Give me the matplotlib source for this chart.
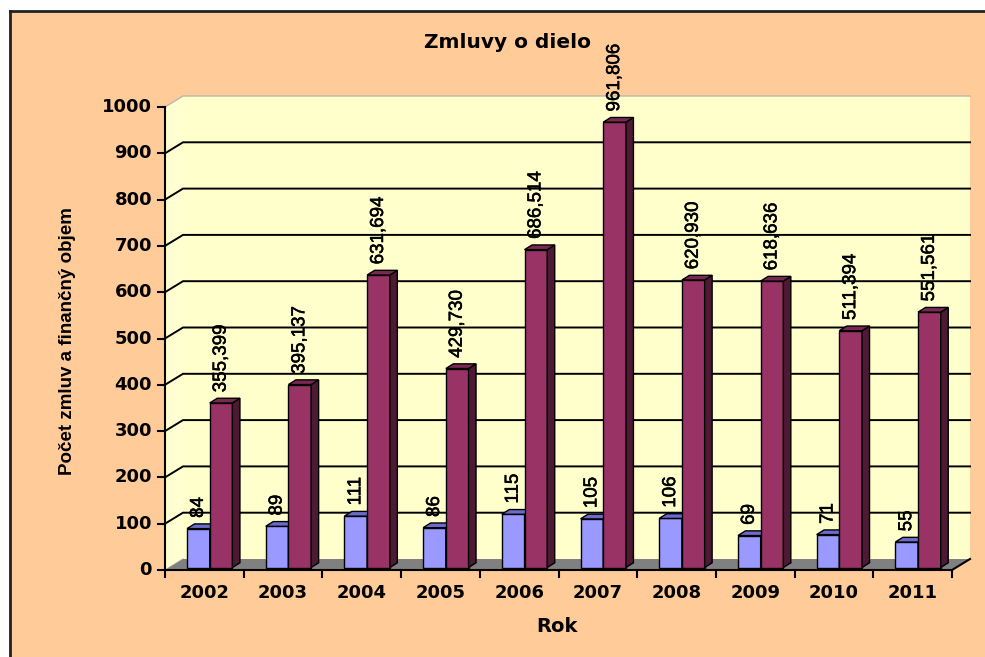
import matplotlib
matplotlib.use("Agg")
import matplotlib.pyplot as plt
import matplotlib.patheffects as pe
from matplotlib.patches import Polygon, Rectangle
from matplotlib.lines import Line2D
from matplotlib import font_manager as fm

# ---- data ----
years = ["2002", "2003", "2004", "2005", "2006", "2007", "2008", "2009", "2010", "2011"]
pocet = [84, 89, 111, 86, 115, 105, 106, 69, 71, 55]
objem = [355.399, 395.137, 631.694, 429.730, 686.514, 961.806, 620.930, 618.636, 511.394, 551.561]
yticks = [0, 100, 200, 300, 400, 500, 600, 700, 800, 900, 1000]
title = "Zmluvy o dielo"
xlabel = "Rok"
ylabel = "Počet zmluv a finančný objem"

# ---- style ----
BG = "#FFCC99"
WALL = "#FFFFCC"
FLOOR = "#808080"
BLUE = ("#9999FF", "#6B6BCC", "#4D4D99")      # front, top, side
MAROON = ("#993366", "#7A2952", "#4D1A33")

names = {f.name for f in fm.fontManager.ttflist}
LABEL_FONT = "Liberation Sans Narrow" if "Liberation Sans Narrow" in names else "Liberation Sans"
LABEL_SIZE = 15 if LABEL_FONT == "Liberation Sans Narrow" else 13.5

W, H = 985, 657
fig = plt.figure(figsize=(W / 100, H / 100), dpi=100)
fig.patch.set_facecolor("white")

# peach chart area with black border on top/left
fig.add_artist(Rectangle((9 / W, 0), 1, 1 - 11 / H, transform=fig.transFigure,
                         facecolor=BG, edgecolor="none", zorder=-10))
fig.add_artist(Line2D([9.5 / W, 9.5 / W], [0, 1 - 10.5 / H], transform=fig.transFigure,
                      color="#222222", lw=2))
fig.add_artist(Line2D([9.5 / W, 1], [1 - 10.5 / H, 1 - 10.5 / H], transform=fig.transFigure,
                      color="#222222", lw=2))

L, R, B, T = 165, 952, 570, 107
ax = fig.add_axes([L / W, (H - B) / H, (R - L) / W, (B - T) / H])
ax.set_xlim(0, len(years))
ax.set_ylim(0, 1000)
ax.axis("off")

pxx = (R - L) / len(years)   # pixels per category
pxy = (B - T) / 1000.0       # pixels per value unit
DX, DY = 18 / pxx, 11 / pxy  # wall depth
n = len(years)
ymax = 1000

def poly(pts, fc, ec="none", lw=0, z=1):
    ax.add_patch(Polygon(pts, closed=True, facecolor=fc, edgecolor=ec, lw=lw,
                         zorder=z, clip_on=False, joinstyle="miter"))

# back wall
poly([(DX, DY), (n + DX, DY), (n + DX, ymax + DY), (DX, ymax + DY)], WALL, z=0)
# left side wall
poly([(0, 0), (DX, DY), (DX, ymax + DY), (0, ymax)], "#FFFFD2", z=0)
# top edges of walls
ax.plot([0, DX, n + DX], [ymax, ymax + DY, ymax + DY], color="#B8B8A8", lw=1, clip_on=False, zorder=0.5)
ax.plot([0, DX], [0, DY], color="#C8C8B0", lw=1, clip_on=False, zorder=0.5)
# gridlines
for v in yticks[1:-1]:
    ax.plot([0, DX, n + DX], [v, v + DY, v + DY], color="black", lw=1.4,
            clip_on=False, zorder=0.6, solid_joinstyle="miter")
# floor
poly([(0, 0), (n, 0), (n + DX, DY), (DX, DY)], FLOOR, z=0.7)

# axes lines
ax.plot([0, 0], [0, ymax], color="black", lw=1.5, clip_on=False, zorder=5)
ax.plot([0, n, n + DX], [0, 0, DY], color="black", lw=1.5, clip_on=False, zorder=5)
for v in yticks:
    ax.plot([-7 / pxx, 0], [v, v], color="black", lw=1.5, clip_on=False, zorder=5)
    ax.text(-13 / pxx, v, str(v), ha="right", va="center", fontsize=13,
            fontweight="bold", family="DejaVu Sans")
for i in range(n + 1):
    ax.plot([i, i], [0, -7 / pxy], color="black", lw=1.5, clip_on=False, zorder=5)
for i, yr in enumerate(years):
    ax.text(i + 0.5, -14 / pxy, yr, ha="center", va="top", fontsize=13,
            fontweight="bold", family="DejaVu Sans")

# 3D bars
bw = 22.7 / pxx
x0 = 0.28
base = 2.5 / pxy
bdx, bdy = 7.5 / pxx, 4.7 / pxy

def bar3d(xl, h, cols, z):
    front, top, side = cols
    xr = xl + bw
    y0, y1 = base, base + h
    poly([(xl, y0), (xr, y0), (xr, y1), (xl, y1)], front, "black", 1.0, z)
    poly([(xr, y0), (xr + bdx, y0 + bdy), (xr + bdx, y1 + bdy), (xr, y1)], side, "black", 1.0, z)
    poly([(xl, y1), (xr, y1), (xr + bdx, y1 + bdy), (xl + bdx, y1 + bdy)], top, "black", 1.0, z)

lab_kw = dict(rotation=90, ha="center", va="bottom", fontsize=LABEL_SIZE,
              family=LABEL_FONT, zorder=10, clip_on=False,
              path_effects=[pe.withStroke(linewidth=0.4, foreground="black")])
gap = 6 / pxy
for i in range(n):
    xb = i + x0
    xm = xb + bw
    bar3d(xb, pocet[i], BLUE, 2 + i * 0.01)
    bar3d(xm, objem[i], MAROON, 2.005 + i * 0.01)
    ax.text(xb + bw / 2, base + pocet[i] + bdy + gap, str(pocet[i]), **lab_kw)
    ax.text(xm + bw / 2, base + objem[i] + bdy + gap,
            f"{objem[i]:.3f}".replace(".", ","), **lab_kw)

# titles
fig.text(508 / W, 1 - 42 / H, title, ha="center", va="center", fontsize=14.5,
         fontweight="bold", family="DejaVu Sans")
fig.text(557 / W, 1 - 626 / H, xlabel, ha="center", va="center", fontsize=14,
         fontweight="bold", family="DejaVu Sans")
fig.text(68 / W, 1 - 341 / H, ylabel, ha="center", va="center", rotation=90,
         fontsize=13.5, fontweight="bold", family="Liberation Sans")

fig.savefig("out.png", dpi=100)
